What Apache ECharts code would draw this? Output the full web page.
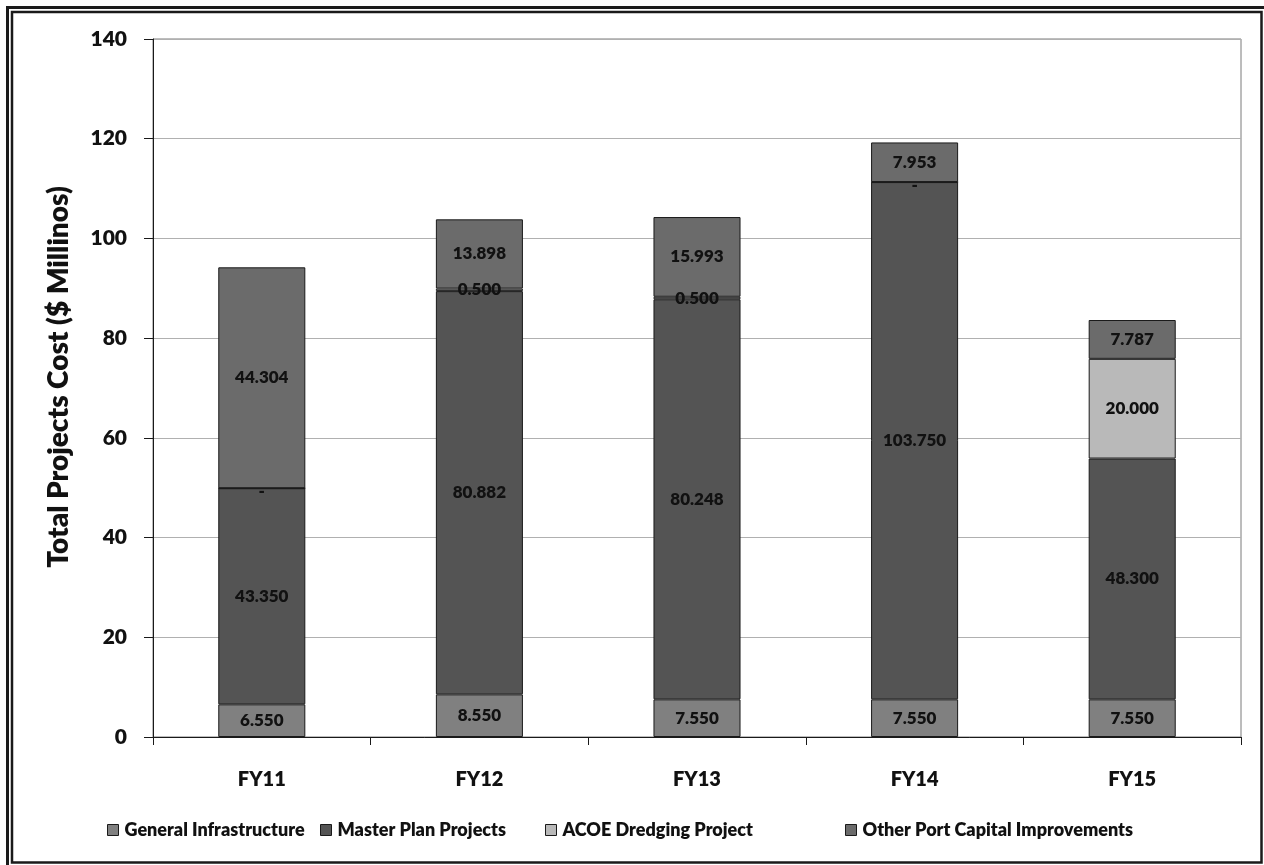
<!DOCTYPE html>
<html>
<head>
<meta charset="utf-8">
<title>Total Projects Cost</title>
<script src="https://cdn.jsdelivr.net/npm/echarts@6/dist/echarts.min.js"></script>
<style>
  html, body { margin: 0; padding: 0; background: #fff; }
  #chart { width: 1264px; height: 865px; }
</style>
</head>
<body>
<div id="chart"></div>
<script>
// Fiscal years on the category axis
const years = ['FY11', 'FY12', 'FY13', 'FY14', 'FY15'];

// Project cost by program, $ millions
const generalInfrastructure = [6.550, 8.550, 7.550, 7.550, 7.550];
const masterPlanProjects = [43.350, 80.882, 80.248, 103.750, 48.300];
const acoeDredging = [0, 0.500, 0.500, 0, 20.000];
const otherPortCapital = [44.304, 13.898, 15.993, 7.953, 7.787];

// Value axis ticks
const yTicks = [0, 20, 40, 60, 80, 100, 120, 140];

const seriesNames = ['General Infrastructure', 'Master Plan Projects', 'ACOE Dredging Project', 'Other Port Capital Improvements'];
const seriesColors = ['#808080', '#545454', '#b9b9b9', '#6b6b6b'];

const FONT = 'Lato, "Open Sans", sans-serif';
const WEIGHT = 800;

const chart = echarts.init(document.getElementById('chart'));

function stackSeries(idx, data) {
  return {
    name: seriesNames[idx],
    type: 'bar',
    stack: 'total',
    barWidth: '40%',
    // zero entries show a dash sitting just under the segment boundary
    data: data.map(v => (v === 0 ? { value: 0, label: { offset: [0, 3] } } : v)),
    itemStyle: { color: seriesColors[idx], borderColor: '#1a1a1a', borderWidth: 1 },
    label: {
      show: true,
      position: 'inside',
      color: '#111',
      fontFamily: FONT,
      fontWeight: WEIGHT,
      fontSize: 17,
      formatter: p => (p.value === 0 ? '-' : p.value.toFixed(3))
    },
    emphasis: { disabled: true }
  };
}

// one legend block per series so each entry sits in its own column
const legendLefts = [107, 320, 545, 845];
const legends = seriesNames.map((name, i) => ({
  left: legendLefts[i],
  bottom: 26,
  padding: 0,
  itemWidth: 11,
  itemHeight: 11,
  icon: 'rect',
  itemStyle: { borderColor: '#1a1a1a', borderWidth: 1 },
  textStyle: { fontFamily: FONT, fontWeight: WEIGHT, fontSize: 18, color: '#111', padding: [0, 0, 0, 1] },
  data: [name],
  selectedMode: false
}));

chart.setOption({
  animation: false,
  textStyle: { fontFamily: FONT },
  graphic: [
    {
      type: 'rect',
      shape: { x: 7.5, y: 7.5, width: 1270, height: 870 },
      style: { fill: 'none', stroke: '#1a1a1a', lineWidth: 3 },
      silent: true
    },
    {
      type: 'rect',
      shape: { x: 12, y: 12, width: 1249.5, height: 850.5 },
      style: { fill: 'none', stroke: '#1a1a1a', lineWidth: 2.5 },
      silent: true
    }
  ],
  grid: {
    left: 153,
    right: 23,
    top: 39,
    bottom: 128,
    show: true,
    borderColor: '#7a7a7a',
    borderWidth: 1
  },
  legend: legends,
  xAxis: {
    type: 'category',
    data: years,
    boundaryGap: true,
    axisLine: { lineStyle: { color: '#1a1a1a', width: 1 } },
    axisTick: { show: true, length: 8, lineStyle: { color: '#1a1a1a' } },
    axisLabel: { margin: 33, fontFamily: FONT, fontWeight: WEIGHT, fontSize: 20, color: '#111' }
  },
  yAxis: {
    type: 'value',
    min: yTicks[0],
    max: yTicks[yTicks.length - 1],
    interval: yTicks[1] - yTicks[0],
    name: 'Total Projects Cost ($ Millinos)',
    nameLocation: 'middle',
    nameRotate: 90,
    nameGap: 80,
    nameTextStyle: { fontFamily: FONT, fontWeight: WEIGHT, fontSize: 28, color: '#111', padding: [0, 0, 0, 22] },
    axisLine: { show: true, lineStyle: { color: '#1a1a1a', width: 1 } },
    axisTick: { show: true, length: 9, lineStyle: { color: '#1a1a1a' } },
    axisLabel: { margin: 26, fontFamily: FONT, fontWeight: WEIGHT, fontSize: 21, color: '#111' },
    splitLine: { show: true, lineStyle: { color: '#b0b0b0', width: 1 } }
  },
  series: [
    stackSeries(0, generalInfrastructure),
    stackSeries(1, masterPlanProjects),
    stackSeries(2, acoeDredging),
    stackSeries(3, otherPortCapital)
  ]
});
</script>
</body>
</html>
